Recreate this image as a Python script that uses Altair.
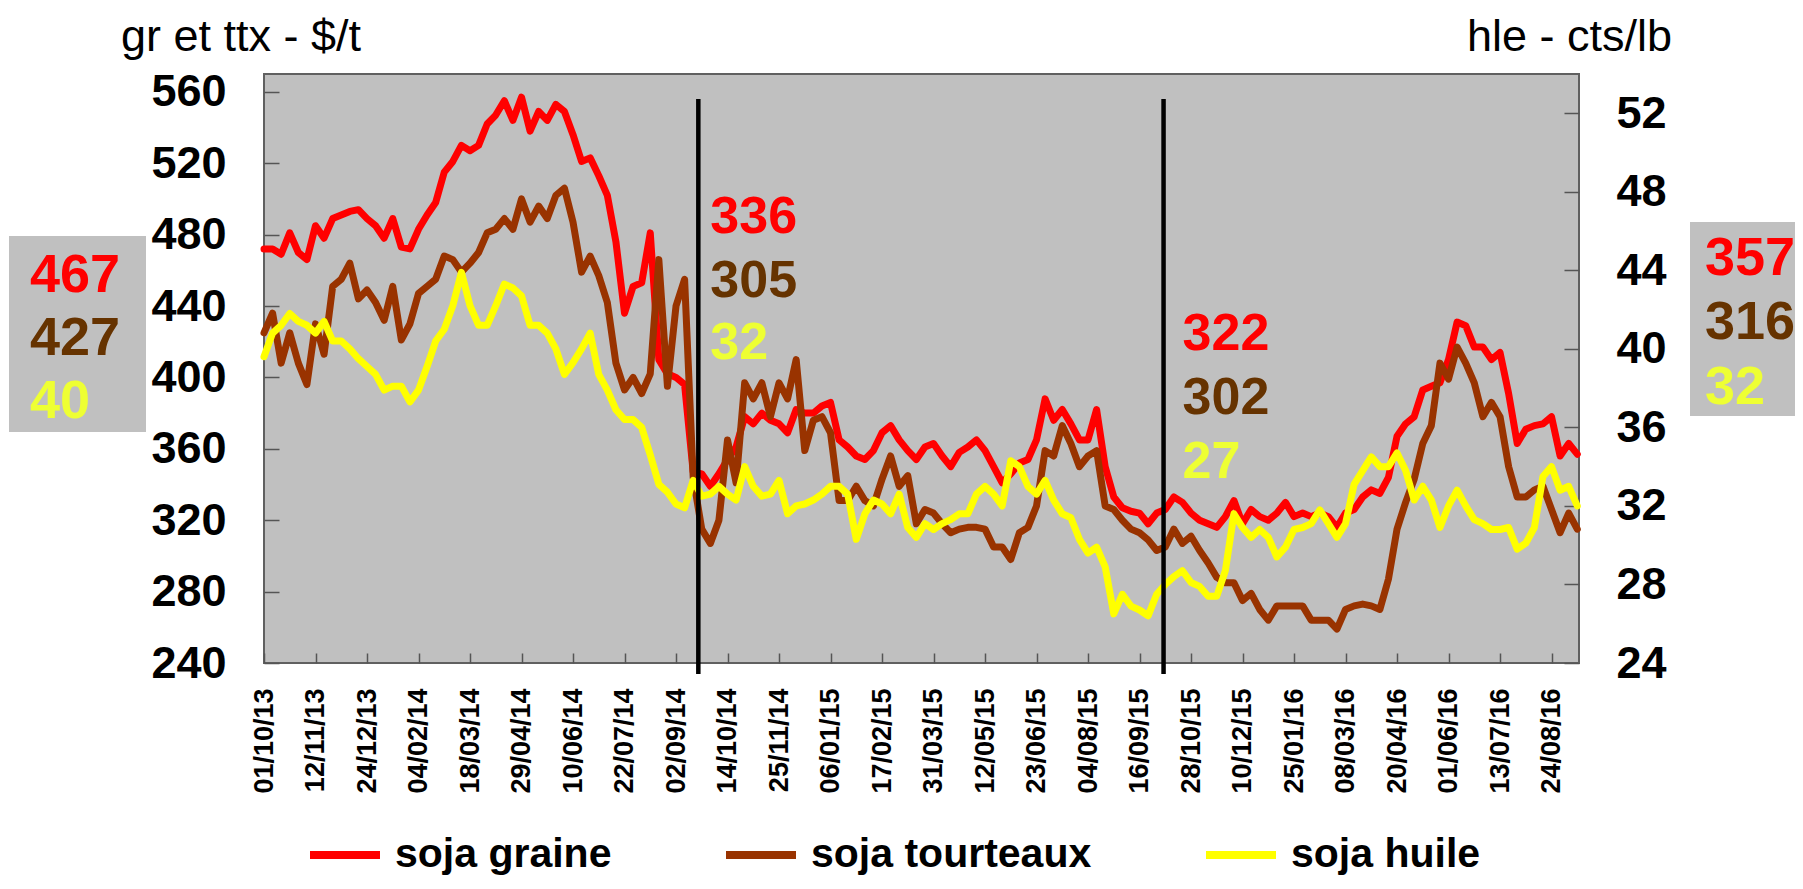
import altair as alt
import pandas as pd

# ---------------- data ----------------
tick_labels = ["01/10/13", "12/11/13", "24/12/13", "04/02/14", "18/03/14", "29/04/14",
               "10/06/14", "22/07/14", "02/09/14", "14/10/14", "25/11/14", "06/01/15",
               "17/02/15", "31/03/15", "12/05/15", "23/06/15", "04/08/15", "16/09/15",
               "28/10/15", "10/12/15", "25/01/16", "08/03/16", "20/04/16", "01/06/16",
               "13/07/16", "24/08/16"]
DAYS_PER_TICK = 30          # business days between two tick labels
STEP = 5                    # business days between two samples (weekly)

graine = [472, 472, 469, 481, 470, 466, 485, 478, 489, 491,
          493, 494, 489, 485, 478, 489, 473, 472, 483, 491,
          498, 515, 521, 530, 527, 530, 542, 547, 555, 544,
          557, 538, 549, 544, 553, 549, 536, 521, 523, 513,
          502, 476, 436, 451, 453, 481, 410, 402, 400, 396,
          347, 346, 339, 346, 354, 361, 378, 374, 380, 376,
          374, 369, 382, 380, 380, 384, 386, 365, 361, 356,
          354, 359, 369, 373, 365, 359, 354, 361, 363, 356,
          350, 358, 361, 365, 359, 350, 341, 346, 352, 354,
          365, 388, 376, 382, 374, 365, 365, 382, 350, 333,
          327, 325, 324, 318, 324, 326, 333, 330, 324, 320,
          318, 316, 322, 331, 318, 326, 322, 320, 324, 330,
          322, 324, 322, 324, 322, 316, 324, 326, 333, 337,
          335, 344, 367, 374, 378, 393, 395, 397, 410, 431,
          429, 417, 417, 410, 414, 391, 363, 371, 373, 374,
          378, 356, 363, 357]

tourteaux = [425, 436, 408, 425, 408, 396, 430, 413, 451, 455,
             464, 444, 449, 442, 432, 451, 421, 430, 447, 451,
             455, 468, 466, 459, 464, 470, 481, 483, 489, 483,
             500, 487, 496, 489, 502, 506, 487, 459, 468, 457,
             442, 408, 393, 400, 391, 402, 466, 395, 440, 455,
             344, 315, 307, 320, 365, 341, 397, 388, 397, 378,
             397, 388, 410, 359, 376, 378, 369, 331, 331, 339,
             331, 328, 343, 356, 339, 345, 318, 326, 324, 318,
             313, 315, 316, 316, 315, 305, 305, 298, 313, 316,
             328, 359, 356, 373, 363, 350, 356, 359, 328, 326,
             320, 315, 313, 309, 303, 305, 315, 307, 311, 303,
             296, 288, 285, 285, 275, 279, 270, 264, 272, 272,
             272, 272, 264, 264, 264, 259, 270, 272, 273, 272,
             270, 287, 315, 330, 343, 363, 373, 408, 399, 417,
             408, 397, 378, 386, 378, 350, 333, 333, 337, 339,
             326, 313, 324, 315]

huile = [39.6, 40.8, 41.2, 41.8, 41.4, 41.2, 40.8, 41.4, 40.4, 40.4,
         40.0, 39.5, 39.1, 38.7, 37.9, 38.1, 38.1, 37.3, 37.9, 39.1,
         40.4, 41.0, 42.2, 43.9, 42.2, 41.2, 41.2, 42.2, 43.3, 43.1,
         42.7, 41.2, 41.2, 40.8, 40.0, 38.7, 39.3, 40.0, 40.8, 38.7,
         37.9, 36.9, 36.4, 36.4, 36.0, 34.6, 33.1, 32.7, 32.1, 31.9,
         33.3, 32.5, 32.6, 33.0, 32.6, 32.3, 34.0, 33.0, 32.5, 32.6,
         33.3, 31.6, 32.0, 32.1, 32.3, 32.6, 33.0, 33.0, 32.6, 30.3,
         31.6, 32.3, 32.1, 31.6, 32.6, 30.9, 30.4, 31.1, 30.8, 31.1,
         31.3, 31.6, 31.6, 32.6, 33.0, 32.6, 32.0, 34.3, 34.0, 33.0,
         32.6, 33.3, 32.3, 31.6, 31.4, 30.3, 29.6, 29.9, 28.9, 26.5,
         27.5, 26.9, 26.7, 26.4, 27.5, 28.0, 28.4, 28.7, 28.1, 27.9,
         27.4, 27.4, 28.7, 31.6, 30.9, 30.4, 30.8, 30.4, 29.4, 29.9,
         30.8, 30.9, 31.1, 31.8, 31.1, 30.4, 31.1, 33.1, 33.8, 34.5,
         34.0, 34.0, 34.7, 33.8, 32.3, 33.0, 32.3, 30.9, 32.0, 32.8,
         32.0, 31.3, 31.1, 30.8, 30.8, 30.9, 29.8, 30.1, 30.9, 33.5,
         34.0, 32.8, 33.0, 32.0]

series_names = ["soja graine", "soja tourteaux", "soja huile"]
series_colors = ["#FF0000", "#993300", "#FFFF00"]
label_colors = ["#FF0000", "#663300", "#EEFF33"]

vline_days = [253, 524]
ann_first = ["336", "305", "32"]
ann_second = ["322", "302", "27"]
box_left = ["467", "427", "40"]
box_right = ["357", "316", "32"]
left_title = "gr et ttx - $/t"
right_title = "hle - cts/lb"

left_ticks = [240, 280, 320, 360, 400, 440, 480, 520, 560]
right_ticks = [24, 28, 32, 36, 40, 44, 48, 52]

# ---------------- tables ----------------
days = [i * STEP for i in range(len(graine))]
df_g = pd.DataFrame({"day": days, "val": graine, "serie": series_names[0]})
df_t = pd.DataFrame({"day": days, "val": tourteaux, "serie": series_names[1]})
df_h = pd.DataFrame({"day": days, "val": huile, "serie": series_names[2]})

FONT = "Liberation Sans"
W, H = 1315, 589

label_js = "[" + ",".join("'" + t + "'" for t in tick_labels) + "]"
x_scale = alt.Scale(domain=[0, 766], nice=False, zero=False)
x_axis = alt.Axis(values=[i * DAYS_PER_TICK for i in range(len(tick_labels))],
                  labelExpr=label_js + "[round(datum.value/" + str(DAYS_PER_TICK) + ")]",
                  labelAngle=-90, labelFontSize=27, labelFontWeight="bold", labelFont=FONT,
                  labelPadding=25, tickSize=10, offset=-10, domain=False, grid=False,
                  tickColor="#555555", tickWidth=1.5, labelOverlap=False, labelBound=False,
                  labelFlush=False, labelColor="black", title=None)


def xenc():
    return alt.X("day:Q", scale=x_scale, axis=x_axis)


legend = alt.Legend(orient="none", legendX=42, legendY=742, direction="horizontal",
                    columns=3, gridAlign="none", columnPadding=98, symbolType="stroke",
                    symbolSize=4900, symbolStrokeWidth=8, labelFontSize=41,
                    labelFontWeight="bold", labelFont=FONT, labelOffset=11, labelLimit=0,
                    labelColor="black", padding=0, title=None)
color = alt.Color("serie:N", scale=alt.Scale(domain=series_names, range=series_colors),
                  sort=series_names, legend=legend)

left_y = alt.Y("val:Q", scale=alt.Scale(domain=[240, 570], nice=False, zero=False),
               axis=alt.Axis(values=left_ticks, orient="left", offset=-15, tickSize=15,
                             labelPadding=38, labelFontSize=45, labelFontWeight="bold",
                             labelFont=FONT, domain=False, grid=False, tickColor="#555555",
                             tickWidth=1.5, labelOverlap=False, labelColor="black", title=None))
right_y = alt.Y("val:Q", scale=alt.Scale(domain=[24, 54], nice=False, zero=False),
                axis=alt.Axis(values=right_ticks, orient="right", offset=-15, tickSize=15,
                              labelPadding=37, labelFontSize=45, labelFontWeight="bold",
                              labelFont=FONT, domain=False, grid=False, tickColor="#555555",
                              tickWidth=1.5, labelOverlap=False, labelColor="black", title=None))

line_kw = dict(strokeWidth=7, strokeJoin="round", strokeCap="round")
red = alt.Chart(df_g).mark_line(**line_kw).encode(x=xenc(), y=left_y, color=color)
brown = alt.Chart(df_t).mark_line(**line_kw).encode(x=xenc(), y=left_y, color=color)
left_layer = alt.layer(red, brown)
yellow = alt.Chart(df_h).mark_line(**line_kw).encode(x=xenc(), y=right_y, color=color)

vlines = alt.Chart(pd.DataFrame({"day": vline_days})).mark_rule(
    color="black", strokeWidth=4.5).encode(x=xenc(), y=alt.value(25), y2=alt.value(600))

one = pd.DataFrame({"k": [0]})
deco = []
# in-plot annotations next to the vertical lines
for d, labels, dx, ys in [(vline_days[0], ann_first, 12, [159, 223, 285]),
                          (vline_days[1], ann_second, 19, [276, 340, 404])]:
    for lab, col, yy in zip(labels, label_colors, ys):
        deco.append(alt.Chart(pd.DataFrame({"day": [d]})).mark_text(
            align="left", baseline="alphabetic", fontSize=52, fontWeight="bold",
            font=FONT, color=col, dx=dx).encode(x=xenc(), y=alt.value(yy),
                                                text=alt.value(lab)))

# grey boxes outside the plot
deco.append(alt.Chart(one).mark_rect(color="#C0C0C0").encode(
    x=alt.value(-255), x2=alt.value(-118), y=alt.value(162), y2=alt.value(358)))
deco.append(alt.Chart(one).mark_rect(color="#C0C0C0").encode(
    x=alt.value(1426), x2=alt.value(1545), y=alt.value(148), y2=alt.value(342)))
for lab, col, yy in zip(box_left, label_colors, [218, 281, 344]):
    deco.append(alt.Chart(one).mark_text(
        align="left", baseline="alphabetic", fontSize=54, fontWeight="bold",
        font=FONT, color=col).encode(x=alt.value(-234), y=alt.value(yy), text=alt.value(lab)))
for lab, col, yy in zip(box_right, label_colors, [201, 265, 330]):
    deco.append(alt.Chart(one).mark_text(
        align="left", baseline="alphabetic", fontSize=54, fontWeight="bold",
        font=FONT, color=col).encode(x=alt.value(1441), y=alt.value(yy), text=alt.value(lab)))

# axis unit titles
deco.append(alt.Chart(one).mark_text(align="left", baseline="alphabetic", fontSize=45,
                                     font=FONT, color="black").encode(
    x=alt.value(-143), y=alt.value(-23), text=alt.value(left_title)))
deco.append(alt.Chart(one).mark_text(align="right", baseline="alphabetic", fontSize=45,
                                     font=FONT, color="black").encode(
    x=alt.value(1408), y=alt.value(-23), text=alt.value(right_title)))

chart = alt.layer(left_layer, yellow, vlines, *deco).resolve_scale(
    y="independent"
).properties(
    width=W, height=H,
    padding={"left": 256, "top": 66, "right": 216, "bottom": 220},
    autosize=alt.AutoSizeParams(type="none"),
    background="white",
).configure(font=FONT).configure_view(fill="#C0C0C0", stroke="#606060", strokeWidth=2)

chart.save("out.html", embed_options={"renderer": "svg", "actions": False})
